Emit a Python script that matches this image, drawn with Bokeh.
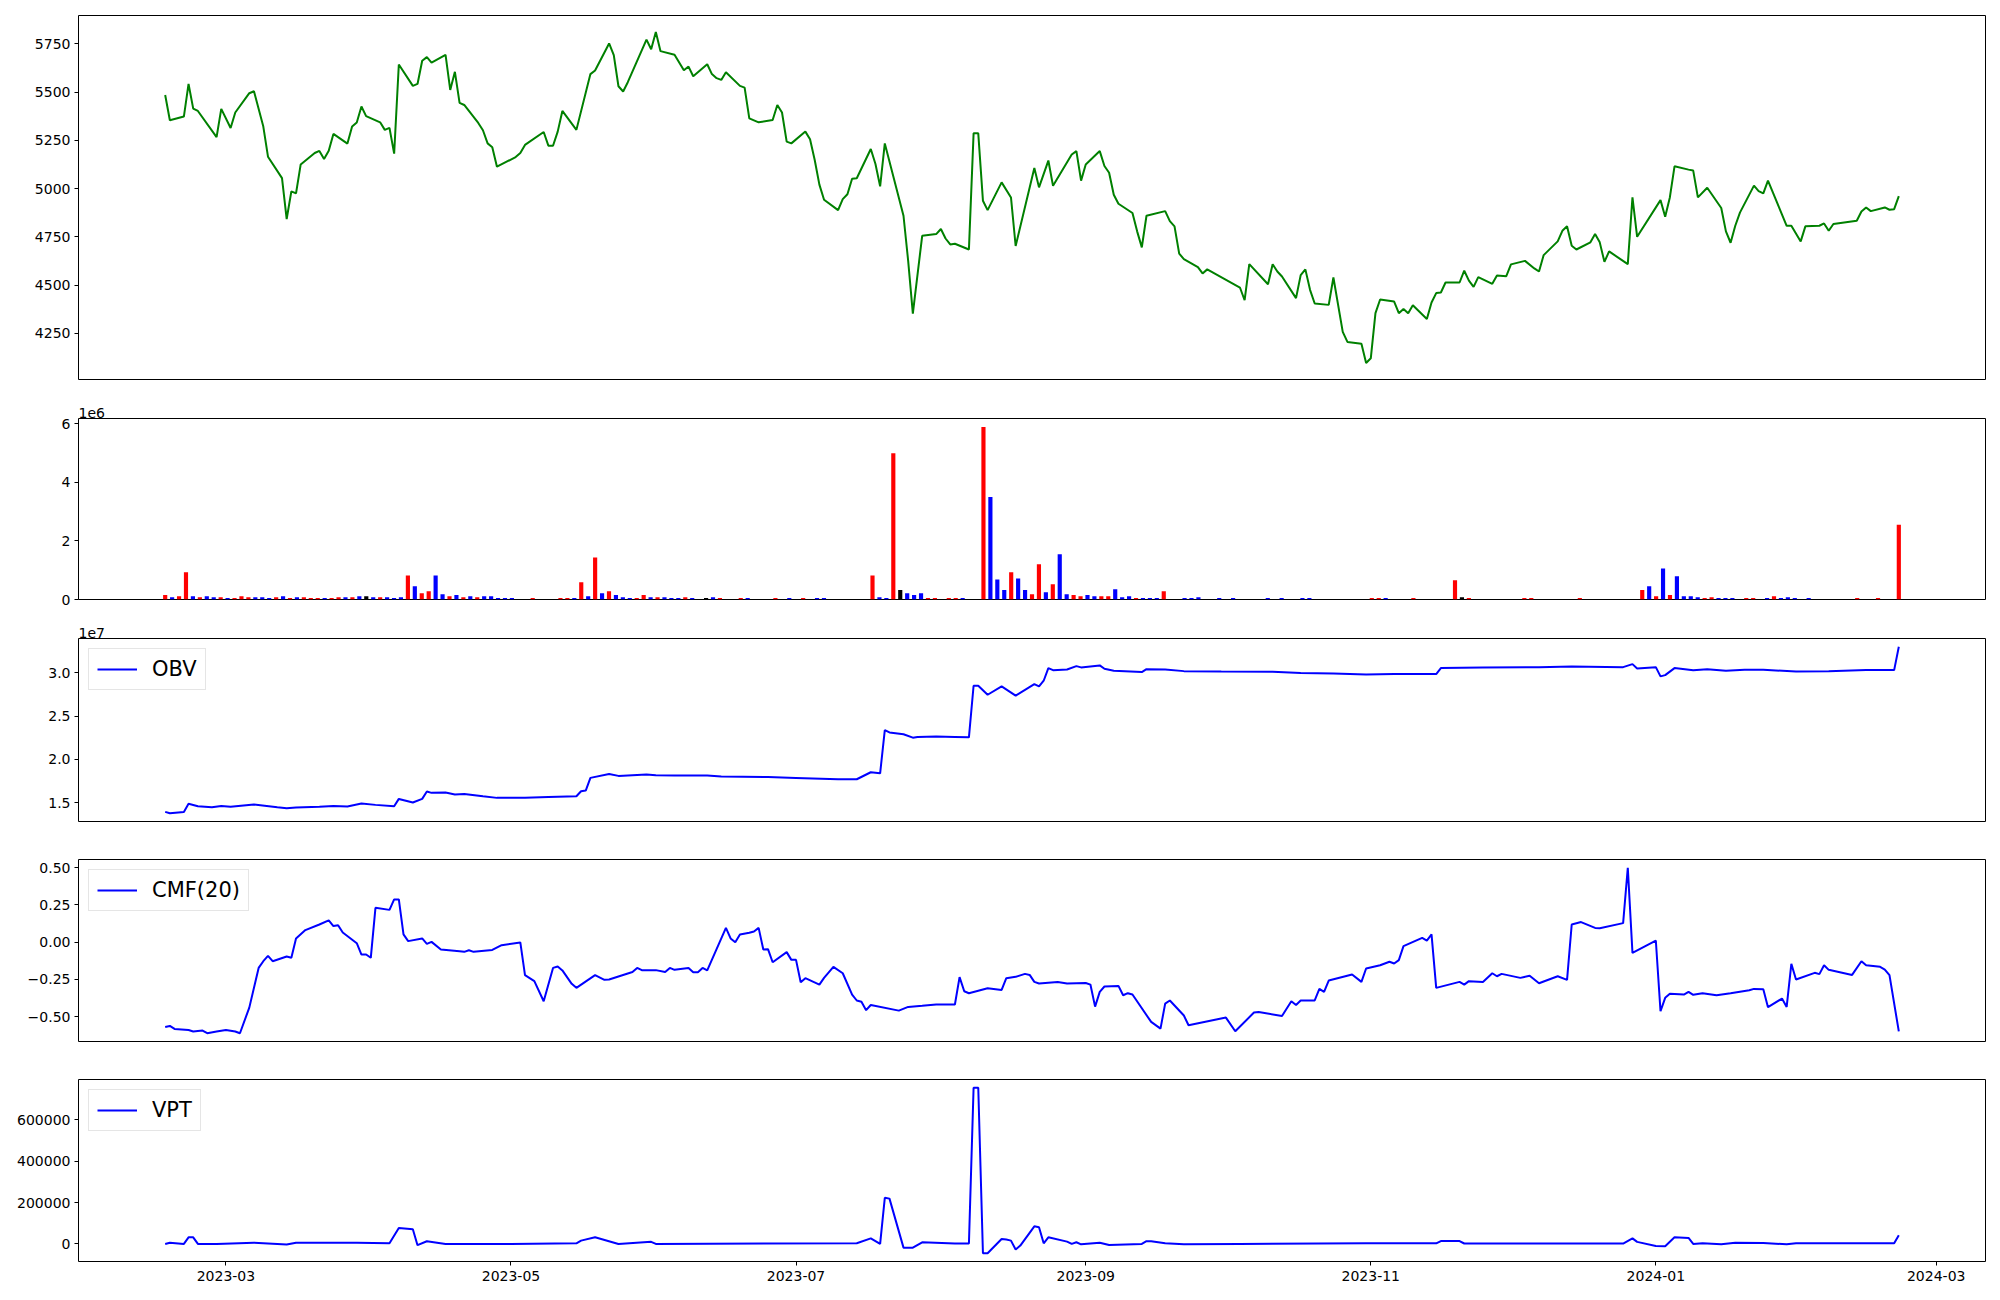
import pandas as pd
from bokeh.plotting import figure
from bokeh.layouts import column
from bokeh.models import (Range1d, FixedTicker, Legend, LegendItem,
                          CustomJSTickFormatter, DatetimeTickFormatter)
from bokeh.embed import file_html
from bokeh.resources import INLINE

# ---------------- data ----------------
price_dates = [
    "2023-02-16", "2023-02-17", "2023-02-20", "2023-02-21", "2023-02-22", "2023-02-23", "2023-02-27", "2023-02-28",
    "2023-03-02", "2023-03-03", "2023-03-06", "2023-03-07", "2023-03-09", "2023-03-10", "2023-03-13", "2023-03-14",
    "2023-03-15", "2023-03-16", "2023-03-17", "2023-03-20", "2023-03-21", "2023-03-22", "2023-03-23", "2023-03-24",
    "2023-03-27", "2023-03-28", "2023-03-29", "2023-03-30", "2023-03-31",
    "2023-04-03", "2023-04-04", "2023-04-05", "2023-04-06", "2023-04-07", "2023-04-10", "2023-04-11", "2023-04-12",
    "2023-04-13", "2023-04-14", "2023-04-17", "2023-04-18", "2023-04-19", "2023-04-20", "2023-04-21", "2023-04-24",
    "2023-04-25", "2023-04-26", "2023-04-27", "2023-04-28",
    "2023-05-02", "2023-05-03", "2023-05-04", "2023-05-08", "2023-05-09", "2023-05-10", "2023-05-11", "2023-05-12",
    "2023-05-15", "2023-05-18", "2023-05-19", "2023-05-22", "2023-05-23", "2023-05-24", "2023-05-25", "2023-05-26",
    "2023-05-30", "2023-05-31",
    "2023-06-01", "2023-06-02", "2023-06-05", "2023-06-07", "2023-06-08", "2023-06-09", "2023-06-12", "2023-06-13",
    "2023-06-14", "2023-06-15", "2023-06-16", "2023-06-19", "2023-06-20", "2023-06-21", "2023-06-23", "2023-06-26",
    "2023-06-27", "2023-06-28", "2023-06-29", "2023-06-30",
    "2023-07-03", "2023-07-04", "2023-07-05", "2023-07-06", "2023-07-07", "2023-07-10", "2023-07-11", "2023-07-12",
    "2023-07-13", "2023-07-14", "2023-07-17", "2023-07-18", "2023-07-19", "2023-07-20", "2023-07-24", "2023-07-25",
    "2023-07-26", "2023-07-28", "2023-07-31",
    "2023-08-01", "2023-08-02", "2023-08-03", "2023-08-04", "2023-08-07", "2023-08-08", "2023-08-09", "2023-08-10",
    "2023-08-11", "2023-08-14", "2023-08-16", "2023-08-17", "2023-08-21", "2023-08-22", "2023-08-24", "2023-08-25",
    "2023-08-29", "2023-08-30", "2023-08-31",
    "2023-09-01", "2023-09-04", "2023-09-05", "2023-09-06", "2023-09-07", "2023-09-08", "2023-09-11", "2023-09-12",
    "2023-09-13", "2023-09-14", "2023-09-18", "2023-09-19", "2023-09-20", "2023-09-21", "2023-09-22", "2023-09-25",
    "2023-09-26", "2023-09-27",
    "2023-10-04", "2023-10-05", "2023-10-06", "2023-10-10", "2023-10-11", "2023-10-12", "2023-10-13", "2023-10-16",
    "2023-10-17", "2023-10-18", "2023-10-19", "2023-10-20", "2023-10-23", "2023-10-24", "2023-10-26", "2023-10-27",
    "2023-10-30", "2023-10-31",
    "2023-11-01", "2023-11-02", "2023-11-03", "2023-11-06", "2023-11-07", "2023-11-08", "2023-11-09", "2023-11-10",
    "2023-11-13", "2023-11-14", "2023-11-15", "2023-11-16", "2023-11-17", "2023-11-20", "2023-11-21", "2023-11-22",
    "2023-11-23", "2023-11-24", "2023-11-27", "2023-11-28", "2023-11-30",
    "2023-12-01", "2023-12-04", "2023-12-06", "2023-12-07", "2023-12-08", "2023-12-11", "2023-12-12", "2023-12-13",
    "2023-12-14", "2023-12-15", "2023-12-18", "2023-12-19", "2023-12-20", "2023-12-21", "2023-12-22", "2023-12-26",
    "2023-12-27", "2023-12-28",
    "2024-01-02", "2024-01-03", "2024-01-04", "2024-01-05", "2024-01-08", "2024-01-09", "2024-01-10", "2024-01-12",
    "2024-01-15", "2024-01-16", "2024-01-17", "2024-01-18", "2024-01-19", "2024-01-22", "2024-01-23", "2024-01-24",
    "2024-01-25", "2024-01-29", "2024-01-30",
    "2024-02-01", "2024-02-02", "2024-02-05", "2024-02-06", "2024-02-07", "2024-02-08", "2024-02-13", "2024-02-14",
    "2024-02-15", "2024-02-16", "2024-02-19", "2024-02-20", "2024-02-21", "2024-02-22",
]
price_close = [
    5485, 5354, 5373, 5542, 5414, 5402, 5266, 5413,
    5314, 5394, 5494, 5504, 5321, 5165, 5054, 4842, 4985, 4975, 5125, 5184, 5195, 5153, 5196, 5283, 5233, 5321,
    5342, 5425, 5375,
    5343, 5304, 5314, 5181, 5643, 5532, 5542, 5662, 5681, 5653, 5693, 5511, 5605, 5444, 5433, 5340, 5302, 5234,
    5214, 5113,
    5163, 5184, 5226, 5293, 5222, 5222, 5295, 5402, 5304, 5593, 5612, 5752, 5691, 5530, 5503, 5551, 5772, 5722,
    5811, 5712, 5693, 5613, 5632, 5582, 5644, 5593, 5572, 5563, 5603, 5532, 5523, 5364, 5343, 5355, 5433, 5394,
    5243, 5234,
    5295, 5255, 5148, 5020, 4942, 4888, 4945, 4970, 5051, 5053, 5205, 5127, 5011, 5234, 4859, 4625, 4352, 4755, 4764,
    4790, 4741, 4710, 4714, 4684, 5286, 5286, 4937, 4888, 5032, 4954, 4702, 5106, 5006, 5145, 5014, 5176, 5194, 5041,
    5125, 5194, 5117, 5082, 4968, 4921, 4873, 4778, 4695, 4859, 4883, 4831, 4804, 4663, 4634, 4593, 4560, 4581,
    4487, 4421, 4608, 4504, 4608, 4570, 4544, 4432, 4551, 4581, 4475, 4404, 4397, 4539, 4257, 4205, 4196, 4096,
    4120, 4354, 4425, 4414, 4354, 4376, 4354, 4395, 4324, 4409, 4458, 4461, 4513, 4513, 4574, 4523, 4490, 4541,
    4506, 4549, 4546,
    4607, 4625, 4586, 4570, 4655, 4726, 4781, 4804, 4703, 4684, 4721, 4764, 4721, 4620, 4674, 4608, 4954, 4750,
    4940, 4854, 4954, 5115, 5098, 5093, 4954, 5004, 4899, 4778, 4719, 4807, 4875, 5015, 4987, 4975, 5041, 4807, 4807,
    4726, 4804, 4807, 4819, 4781, 4816, 4833, 4881, 4902, 4883, 4902, 4890, 4893, 4961,
]

# daily volume (thousands of shares), one bar per session, in order
volume_k = [
    150, 80, 110, 930, 110, 80, 110, 80, 80, 50,
    50, 110, 80, 80, 80, 50, 80, 110, 50, 80,
    80, 50, 50, 50, 50, 80, 80, 80, 110, 110,
    80, 80, 80, 50, 80, 820, 450, 210, 280, 820,
    180, 110, 150, 80, 110, 80, 110, 110, 50, 50,
    50, 0, 0, 50, 0, 0, 0, 50, 50, 50,
    590, 110, 1430, 210, 280, 150, 80, 50, 50, 150,
    80, 80, 80, 50, 50, 80, 50, 0, 50, 80,
    50, 0, 0, 50, 50, 0, 0, 0, 50, 0,
    50, 0, 50, 0, 50, 50, 0, 0, 0, 0,
    0, 0, 820, 80, 50, 4990, 320, 210, 150, 210,
    50, 50, 0, 50, 50, 50, 0, 0, 5880, 3500,
    680, 320, 930, 720, 320, 180, 1200, 250, 520, 1540,
    180, 150, 110, 150, 110, 110, 110, 350, 80, 110,
    50, 50, 50, 50, 280, 0, 0, 50, 50, 80,
    0, 0, 50, 0, 50, 0, 0, 0, 0, 50,
    0, 50, 0, 0, 50, 50, 0, 0, 0, 0,
    0, 0, 0, 0, 50, 50, 50, 0, 0, 0,
    50, 0, 0, 0, 0, 0, 660, 80, 50, 0,
    0, 0, 0, 0, 0, 0, 50, 50, 0, 0,
    0, 0, 0, 0, 50, 0, 0, 0, 0, 0,
    0, 0, 0, 320, 450, 110, 1060, 150, 790, 110,
    110, 80, 50, 80, 50, 50, 50, 0, 50, 50,
    0, 50, 110, 50, 80, 50, 0, 50, 0, 0,
    0, 0, 0, 0, 50, 0, 0, 50, 0, 0,
    2550,
]
# r = close up, b = close down, k = unchanged
volume_dir = list(
    "rbrrbrbbrb" "rrrbbbrbrb" "rrrbrrbrbk" "brbbbrbrrb" "brbrbrbbbb"
    "bkkrkkkrrb" "rbrbrbbbrr" "brbbbrbkkb" "rkkrbkkkrk" "bkrkbbkkkk"
    "kkrbbrkbbb" "rrkrrbkkrb" "bbrbbrrbrb" "brrbbrrbbb" "rbbbrkkbbb"
    "kkbkbkkkkb" "kbkkbbkkkk" "kkkkrrbkkk" "rkkkkkrkrk" "kkkkkkrrkk"
    "kkkkrkkkkk" "kkkrbrbrbb" "bbrrbbbkrr" "kbrbbbkbkk" "kkkkrkkrkk"
    "r"
)

obv_dates = [
    "2023-02-16", "2023-02-17", "2023-02-20", "2023-02-21", "2023-02-23", "2023-02-26", "2023-02-28", "2023-03-02",
    "2023-03-07", "2023-03-12", "2023-03-14", "2023-03-16", "2023-03-21", "2023-03-24", "2023-03-27", "2023-03-30",
    "2023-04-02", "2023-04-06", "2023-04-07", "2023-04-10", "2023-04-12", "2023-04-13", "2023-04-14", "2023-04-17",
    "2023-04-19", "2023-04-21", "2023-04-25", "2023-04-28", "2023-05-04", "2023-05-09", "2023-05-15", "2023-05-16",
    "2023-05-17", "2023-05-18", "2023-05-22", "2023-05-24", "2023-05-30", "2023-06-01", "2023-06-05", "2023-06-12",
    "2023-06-15", "2023-06-25", "2023-07-01", "2023-07-10", "2023-07-14", "2023-07-17", "2023-07-19", "2023-07-20",
    "2023-07-21", "2023-07-24", "2023-07-26", "2023-07-27", "2023-07-31", "2023-08-04", "2023-08-07", "2023-08-08",
    "2023-08-09", "2023-08-11", "2023-08-14", "2023-08-17", "2023-08-21", "2023-08-22", "2023-08-23", "2023-08-24",
    "2023-08-25", "2023-08-28", "2023-08-30", "2023-08-31", "2023-09-04", "2023-09-05", "2023-09-07", "2023-09-13",
    "2023-09-14", "2023-09-18", "2023-09-22", "2023-09-30", "2023-10-11", "2023-10-17", "2023-10-24", "2023-10-31",
    "2023-11-06", "2023-11-15", "2023-11-16", "2023-11-25", "2023-12-07", "2023-12-14", "2023-12-25", "2023-12-27",
    "2023-12-28", "2024-01-01", "2024-01-02", "2024-01-03", "2024-01-05", "2024-01-09", "2024-01-12", "2024-01-16",
    "2024-01-20", "2024-01-24", "2024-01-31", "2024-02-07", "2024-02-15", "2024-02-21", "2024-02-22",
]
obv_e7 = [
    1.392, 1.377, 1.392, 1.485, 1.458, 1.446, 1.460, 1.450,
    1.477, 1.446, 1.435, 1.442, 1.450, 1.460, 1.454, 1.488,
    1.473, 1.458, 1.542, 1.500, 1.542, 1.627, 1.612, 1.615,
    1.592, 1.600, 1.573, 1.554, 1.554, 1.565, 1.573, 1.631,
    1.638, 1.785, 1.831, 1.808, 1.823, 1.815, 1.812, 1.812,
    1.800, 1.796, 1.785, 1.769, 1.769, 1.850, 1.838, 2.338,
    2.310, 2.290, 2.250, 2.258, 2.262, 2.258, 2.254, 2.850,
    2.850, 2.746, 2.842, 2.735, 2.869, 2.842, 2.908, 3.054,
    3.030, 3.038, 3.077, 3.062, 3.085, 3.046, 3.023, 3.008,
    3.042, 3.038, 3.019, 3.015, 3.012, 2.996, 2.992, 2.981,
    2.985, 2.985, 3.054, 3.062, 3.065, 3.073, 3.065, 3.100,
    3.050, 3.065, 2.958, 2.973, 3.054, 3.030, 3.042, 3.023,
    3.035, 3.035, 3.015, 3.019, 3.031, 3.031, 3.300,
]

cmf_dates = [
    "2023-02-16", "2023-02-17", "2023-02-18", "2023-02-21", "2023-02-22", "2023-02-24", "2023-02-25", "2023-02-27",
    "2023-03-01", "2023-03-03", "2023-03-04", "2023-03-06", "2023-03-08", "2023-03-09", "2023-03-10", "2023-03-11",
    "2023-03-14", "2023-03-15", "2023-03-16", "2023-03-18", "2023-03-21", "2023-03-23", "2023-03-24", "2023-03-25",
    "2023-03-26", "2023-03-29", "2023-03-30", "2023-03-31", "2023-04-01", "2023-04-02", "2023-04-05", "2023-04-06",
    "2023-04-07", "2023-04-08", "2023-04-09", "2023-04-12", "2023-04-13", "2023-04-14", "2023-04-16", "2023-04-20",
    "2023-04-21", "2023-04-22", "2023-04-23", "2023-04-27", "2023-04-29", "2023-05-03", "2023-05-04", "2023-05-06",
    "2023-05-08", "2023-05-10", "2023-05-11", "2023-05-12", "2023-05-14", "2023-05-15", "2023-05-19", "2023-05-21",
    "2023-05-22", "2023-05-27", "2023-05-28", "2023-05-29", "2023-06-01", "2023-06-03", "2023-06-04", "2023-06-05",
    "2023-06-08", "2023-06-09", "2023-06-10", "2023-06-11", "2023-06-12", "2023-06-16", "2023-06-17", "2023-06-18",
    "2023-06-19", "2023-06-21", "2023-06-22", "2023-06-23", "2023-06-24", "2023-06-25", "2023-06-26", "2023-06-29",
    "2023-06-30", "2023-07-01", "2023-07-02", "2023-07-03", "2023-07-06", "2023-07-07", "2023-07-09", "2023-07-11",
    "2023-07-13", "2023-07-14", "2023-07-15", "2023-07-16", "2023-07-17", "2023-07-23", "2023-07-25", "2023-07-28",
    "2023-07-31", "2023-08-04", "2023-08-05", "2023-08-06", "2023-08-07", "2023-08-11", "2023-08-14", "2023-08-15",
    "2023-08-17", "2023-08-19", "2023-08-20", "2023-08-21", "2023-08-22", "2023-08-26", "2023-08-28", "2023-09-01",
    "2023-09-02", "2023-09-03", "2023-09-04", "2023-09-05", "2023-09-08", "2023-09-09", "2023-09-10", "2023-09-11",
    "2023-09-15", "2023-09-17", "2023-09-18", "2023-09-19", "2023-09-22", "2023-09-23", "2023-10-01", "2023-10-03",
    "2023-10-07", "2023-10-08", "2023-10-13", "2023-10-15", "2023-10-16", "2023-10-17", "2023-10-20", "2023-10-21",
    "2023-10-22", "2023-10-23", "2023-10-28", "2023-10-30", "2023-10-31", "2023-11-03", "2023-11-05", "2023-11-06",
    "2023-11-07", "2023-11-08", "2023-11-12", "2023-11-13", "2023-11-14", "2023-11-15", "2023-11-20", "2023-11-21",
    "2023-11-22", "2023-11-25", "2023-11-27", "2023-11-28", "2023-11-29", "2023-12-03", "2023-12-05", "2023-12-07",
    "2023-12-11", "2023-12-13", "2023-12-14", "2023-12-16", "2023-12-19", "2023-12-20", "2023-12-25", "2023-12-26",
    "2023-12-27", "2024-01-01", "2024-01-02", "2024-01-03", "2024-01-04", "2024-01-07", "2024-01-08", "2024-01-09",
    "2024-01-11", "2024-01-14", "2024-01-17", "2024-01-21", "2024-01-22", "2024-01-24", "2024-01-25", "2024-01-28",
    "2024-01-29", "2024-01-30", "2024-01-31", "2024-02-04", "2024-02-05", "2024-02-06", "2024-02-07", "2024-02-12",
    "2024-02-14", "2024-02-15", "2024-02-18", "2024-02-19", "2024-02-20", "2024-02-22",
]
cmf_20 = [
    -0.570, -0.563, -0.583, -0.590, -0.600, -0.594, -0.612, -0.600,
    -0.590, -0.600, -0.612, -0.440, -0.173, -0.128, -0.092, -0.128,
    -0.096, -0.105, 0.025, 0.081, 0.119, 0.146, 0.108, 0.114,
    0.065, -0.007, -0.083, -0.083, -0.105, 0.231, 0.217, 0.287,
    0.287, 0.052, 0.007, 0.025, -0.011, 0.002, -0.049, -0.061,
    -0.065, -0.054, -0.065, -0.052, -0.020, -0.002, -0.222, -0.262,
    -0.397, -0.173, -0.164, -0.190, -0.280, -0.307, -0.222, -0.253,
    -0.251, -0.200, -0.173, -0.188, -0.188, -0.200, -0.173, -0.186,
    -0.173, -0.202, -0.202, -0.173, -0.190, 0.096, 0.025, 0.000,
    0.052, 0.063, 0.072, 0.096, -0.049, -0.047, -0.135, -0.067,
    -0.119, -0.119, -0.269, -0.242, -0.285, -0.240, -0.166, -0.209,
    -0.352, -0.392, -0.401, -0.457, -0.422, -0.460, -0.435, -0.428,
    -0.419, -0.419, -0.235, -0.330, -0.343, -0.310, -0.321, -0.242,
    -0.233, -0.213, -0.220, -0.267, -0.278, -0.267, -0.278, -0.274,
    -0.285, -0.433, -0.334, -0.298, -0.294, -0.357, -0.343, -0.352,
    -0.536, -0.581, -0.413, -0.392, -0.493, -0.558, -0.507, -0.599,
    -0.473, -0.469, -0.496, -0.397, -0.422, -0.392, -0.392, -0.314,
    -0.334, -0.258, -0.217, -0.267, -0.177, -0.155, -0.132, -0.143,
    -0.121, -0.027, 0.029, 0.011, 0.052, -0.307, -0.267, -0.285,
    -0.262, -0.267, -0.209, -0.229, -0.213, -0.240, -0.226, -0.276,
    -0.229, -0.253, 0.119, 0.135, 0.096, 0.094, 0.128, 0.500,
    -0.072, 0.011, -0.464, -0.374, -0.347, -0.352, -0.334, -0.354,
    -0.343, -0.357, -0.343, -0.323, -0.314, -0.316, -0.437, -0.379,
    -0.435, -0.146, -0.251, -0.206, -0.215, -0.155, -0.186, -0.220,
    -0.128, -0.155, -0.166, -0.184, -0.222, -0.600,
]

vpt_dates = [
    "2023-02-16", "2023-02-17", "2023-02-20", "2023-02-21", "2023-02-22", "2023-02-23", "2023-02-27", "2023-03-07",
    "2023-03-14", "2023-03-16", "2023-03-29", "2023-04-05", "2023-04-07", "2023-04-10", "2023-04-11", "2023-04-13",
    "2023-04-17", "2023-05-01", "2023-05-15", "2023-05-16", "2023-05-19", "2023-05-24", "2023-05-31", "2023-06-01",
    "2023-07-14", "2023-07-17", "2023-07-19", "2023-07-20", "2023-07-21", "2023-07-24", "2023-07-26", "2023-07-28",
    "2023-08-04", "2023-08-07", "2023-08-08", "2023-08-09", "2023-08-10", "2023-08-11", "2023-08-14", "2023-08-15",
    "2023-08-16", "2023-08-17", "2023-08-18", "2023-08-21", "2023-08-22", "2023-08-23", "2023-08-24", "2023-08-28",
    "2023-08-29", "2023-08-30", "2023-08-31", "2023-09-04", "2023-09-06", "2023-09-13", "2023-09-14", "2023-09-15",
    "2023-09-18", "2023-09-22", "2023-10-04", "2023-10-31", "2023-11-15", "2023-11-16", "2023-11-20", "2023-11-21",
    "2023-12-25", "2023-12-27", "2023-12-28", "2024-01-01", "2024-01-03", "2024-01-05", "2024-01-08", "2024-01-09",
    "2024-01-11", "2024-01-15", "2024-01-18", "2024-01-24", "2024-01-29", "2024-01-31", "2024-02-21", "2024-02-22",
]
vpt = [
    0, 6000, 0, 32000, 32000, 0, 0, 6000,
    -3000, 6000, 6000, 3000, 77000, 71000, -6000, 13000,
    0, 0, 3000, 16000, 32000, 0, 10000, 0,
    3000, 27000, 0, 223000, 219000, -18000, -18000, 8000,
    2000, 2000, 755000, 755000, -45000, -45000, 24000, 21000,
    16000, -27000, -8000, 85000, 81000, 3000, 32000, 11000,
    0, 8000, -2000, 6000, -5000, 0, 13000, 13000,
    3000, -2000, 0, 3000, 3000, 14000, 14000, 2000,
    2000, 27000, 10000, -10000, -11000, 32000, 29000, 0,
    3000, -2000, 6000, 5000, -2000, 3000, 3000, 42000,
]

x_tick_labels = ["2023-03", "2023-05", "2023-07", "2023-09", "2023-11", "2024-01", "2024-03"]
price_ticks = [4250, 4500, 4750, 5000, 5250, 5500, 5750]
volume_ticks = [0, 2, 4, 6]
obv_ticks = [1.5, 2.0, 2.5, 3.0]
cmf_ticks = [-0.5, -0.25, 0.0, 0.25, 0.5]
vpt_ticks = [0, 200000, 400000, 600000]

# ---------------- layout ----------------
FONT = "DejaVu Sans"
W = 1998
BL, BR = 78, 13
GREEN = "#008000"
BLUE = "#0000ff"
DIR_COLOR = {"r": "#ff0000", "b": "#0000ff", "k": "#000000"}

pd_price = pd.to_datetime(price_dates)
pd_obv = pd.to_datetime(obv_dates)
pd_cmf = pd.to_datetime(cmf_dates)
pd_vpt = pd.to_datetime(vpt_dates)

first = min(pd_price[0], pd_obv[0], pd_cmf[0], pd_vpt[0])
last = max(pd_price[-1], pd_obv[-1], pd_cmf[-1], pd_vpt[-1])
span = last - first
x_rng = Range1d(start=first - 0.05 * span, end=last + 0.05 * span)


def padded(vals, bottom_zero=False):
    lo, hi = min(vals), max(vals)
    if bottom_zero:
        return Range1d(0, hi * 1.05)
    m = (hi - lo) * 0.05
    return Range1d(lo - m, hi + m)


def style_axis(ax, standoff):
    ax.axis_line_color = None
    ax.major_tick_out = 4
    ax.major_tick_in = 0
    ax.minor_tick_line_color = None
    ax.major_tick_line_color = "black"
    ax.major_label_text_font = FONT
    ax.major_label_text_font_size = "14px"
    ax.major_label_text_color = "black"
    ax.major_label_standoff = standoff


def make_fig(height, top, bottom, x_range, y_range, x_type="auto", title=None):
    p = figure(width=W, height=height, x_range=x_range, y_range=y_range,
               x_axis_type=x_type, output_backend="svg", toolbar_location=None,
               min_border_left=BL, min_border_right=BR,
               min_border_top=top, min_border_bottom=bottom, title=title)
    p.outline_line_color = "black"
    p.outline_line_width = 1
    p.outline_line_alpha = 1
    p.xgrid.visible = False
    p.ygrid.visible = False
    p.background_fill_color = "white"
    p.border_fill_color = "white"
    for ax in p.yaxis:
        style_axis(ax, 4)
    if title is not None:
        p.title.text_font = FONT
        p.title.text_font_size = "14px"
        p.title.text_font_style = "normal"
        p.title.text_color = "black"
        p.title.align = "left"
        p.title.standoff = 2
        p.title.offset = 0
    return p


def add_legend(p, renderer, label):
    leg = Legend(items=[LegendItem(label=label, renderers=[renderer])],
                 location="top_left", margin=10, padding=8, spacing=0,
                 glyph_width=40, glyph_height=20, label_height=21,
                 label_standoff=15, label_text_font=FONT,
                 label_text_font_size="21px", label_text_color="black",
                 border_line_color="#cccccc", border_line_width=1,
                 background_fill_alpha=0.8)
    p.add_layout(leg)


# Panel 1 - close price
p1 = make_fig(398, 15, 19, x_rng, padded(price_close), x_type="datetime")
p1.line(pd_price, price_close, line_color=GREEN, line_width=2)
p1.xaxis.visible = False
p1.yaxis.ticker = FixedTicker(ticks=price_ticks)

# Panel 2 - volume bars (one per session)
n = len(volume_k)
vol_m = [v / 1000.0 for v in volume_k]
vol_idx = list(range(n))
vol_colors = [DIR_COLOR[c] for c in volume_dir]
p2 = make_fig(220, 20, 19, Range1d(-0.05 * (n - 1), (n - 1) * 1.05),
              padded(vol_m, bottom_zero=True), title="1e6")
p2.vbar(x=vol_idx, top=vol_m, bottom=0, width=0.6, fill_color=vol_colors,
        line_color=None)
p2.xaxis.visible = False
p2.yaxis.ticker = FixedTicker(ticks=volume_ticks)

# Panel 3 - OBV
p3 = make_fig(221, 20, 18, x_rng, padded(obv_e7), x_type="datetime", title="1e7")
r3 = p3.line(pd_obv, obv_e7, line_color=BLUE, line_width=2)
p3.xaxis.visible = False
p3.yaxis.ticker = FixedTicker(ticks=obv_ticks)
p3.yaxis.formatter = CustomJSTickFormatter(code="return tick.toFixed(1);")
add_legend(p3, r3, "OBV")

# Panel 4 - CMF(20)
p4 = make_fig(220, 20, 18, x_rng, padded(cmf_20), x_type="datetime")
r4 = p4.line(pd_cmf, cmf_20, line_color=BLUE, line_width=2)
p4.xaxis.visible = False
p4.yaxis.ticker = FixedTicker(ticks=cmf_ticks)
p4.yaxis.formatter = CustomJSTickFormatter(
    code="return tick.toFixed(2).replace('-', '\u2212');")
add_legend(p4, r4, "CMF(20)")

# Panel 5 - VPT
p5 = make_fig(239, 20, 37, x_rng, padded(vpt), x_type="datetime")
r5 = p5.line(pd_vpt, vpt, line_color=BLUE, line_width=2)
p5.yaxis.ticker = FixedTicker(ticks=vpt_ticks)
p5.yaxis.formatter = CustomJSTickFormatter(code="return tick.toFixed(0);")
add_legend(p5, r5, "VPT")
xt = [pd.Timestamp(s + "-01").value / 1e6 for s in x_tick_labels]
ax5 = p5.xaxis[0]
ax5.ticker = FixedTicker(ticks=xt)
fmt = "%Y-%m"
ax5.formatter = DatetimeTickFormatter(years=fmt, months=fmt, days=fmt, hours=fmt,
                                      hourmin=fmt, minutes=fmt, minsec=fmt,
                                      seconds=fmt, milliseconds=fmt,
                                      microseconds=fmt)
style_axis(ax5, 5)

layout = column(p1, p2, p3, p4, p5, spacing=0)
open("out.html", "w").write(file_html(layout, INLINE))
